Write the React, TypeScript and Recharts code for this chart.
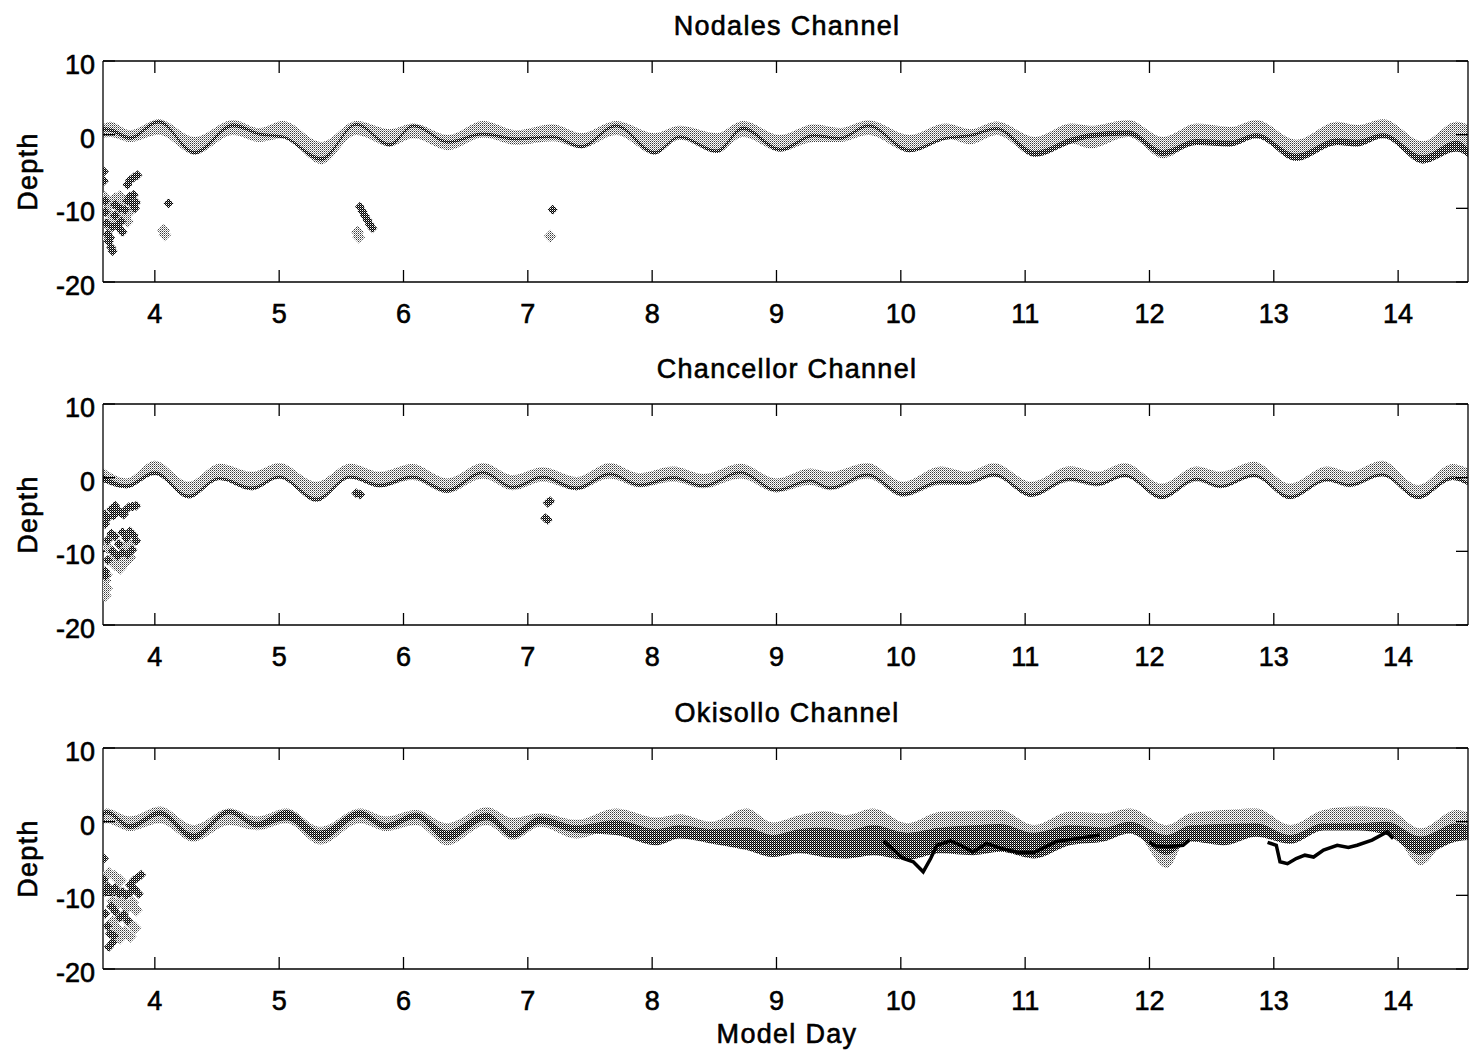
import React from 'react'
import { ComposedChart, Area, Line, Scatter, XAxis, YAxis } from 'recharts'

const FONT = '"Liberation Sans", Arial, Helvetica, sans-serif'
const X_TICKS = [4, 5, 6, 7, 8, 9, 10, 11, 12, 13, 14]
const Y_TICKS = [-20, -10, 0, 10]
const X_DOMAIN: [number, number] = [3.583, 14.562]
const Y_DOMAIN: [number, number] = [-20, 10]

// Nodales Channel
const nodDays = [3.583, 3.64, 3.8, 4.03, 4.32, 4.63, 4.84, 5.03, 5.34, 5.62, 5.89, 6.08, 6.36, 6.64, 6.91, 7.2, 7.43, 7.71, 8.02, 8.22, 8.52, 8.73, 9.03, 9.3, 9.51, 9.74, 10.07, 10.36, 10.56, 10.77, 11.08, 11.37, 11.52, 11.83, 12.11, 12.38, 12.65, 12.86, 13.18, 13.51, 13.67, 13.88, 14.2, 14.47, 14.56]
const nodLightTop = [1.4, 1.75, 0.6, 2.1, -0.3, 2.0, 0.9, 1.85, -1.0, 1.85, 0.75, 1.5, -0.05, 1.85, 0.6, 1.4, 0.2, 1.85, 0.2, 1.2, 0.2, 1.85, -0.05, 1.4, 0.9, 1.95, -0.05, 1.5, 0.75, 1.8, -0.3, 1.5, 1.2, 2.0, -0.3, 1.5, 1.05, 2.0, -0.7, 1.75, 1.3, 2.1, -0.9, 1.75, 1.4]
const nodLightBot = [-0.4, -0.3, -1.0, 0.0, -2.7, -0.05, -1.0, -0.5, -4.0, -0.05, -1.6, -0.5, -2.1, -0.4, -1.4, -0.9, -1.85, -0.05, -2.7, -0.7, -2.5, -0.3, -2.3, -1.0, -1.0, -0.05, -2.4, -0.5, -1.3, -0.05, -3.0, -1.2, -1.85, -0.3, -3.2, -1.2, -1.6, -0.5, -3.55, -1.4, -1.6, -0.3, -3.9, -2.3, -3.0]
const nodDarkTop = [1.0, 0.9, -0.2, 2.0, -2.2, 1.5, 0.3, -0.1, -3.0, 1.6, -1.1, 1.4, -0.8, 0.3, -0.4, -0.1, -1.4, 1.4, -2.2, -0.1, -2.0, 1.1, -1.8, 0.1, -0.3, 1.4, -1.9, -0.3, 0.1, 1.0, -2.2, -0.4, 0.2, 0.6, -2.1, -0.6, -0.8, 0.2, -2.6, -0.5, -0.7, 0.2, -2.8, -0.8, -1.8]
const nodDarkBot = [0.5, 0.4, -0.7, 1.5, -2.7, 1.0, -0.1, -0.5, -3.6, 1.2, -1.6, 1.0, -1.2, -0.1, -0.8, -0.5, -1.85, 1.0, -2.7, -0.5, -2.5, 0.6, -2.3, -0.3, -0.7, 1.0, -2.4, -0.7, -0.3, 0.6, -3.0, -1.2, -0.5, -0.1, -2.9, -1.4, -1.6, -0.5, -3.55, -1.4, -1.6, -0.5, -3.9, -2.3, -3.0]
const nodDarkDots = [[3.59, -5.0], [3.59, -6.3], [3.6, -9.0], [3.6, -10.5], [3.61, -12.0], [3.62, -13.5], [3.63, -14.5], [3.65, -15.3], [3.66, -15.8], [3.64, -14.0], [3.66, -12.5], [3.68, -11.0], [3.7, -12.3], [3.72, -12.8], [3.74, -13.2], [3.73, -11.8], [3.76, -10.2], [3.78, -9.0], [3.8, -8.4], [3.82, -9.4], [3.84, -10.0], [3.85, -9.2], [3.83, -8.2], [3.78, -6.8], [3.8, -6.2], [3.83, -5.8], [3.86, -5.5], [3.72, -10.0], [3.68, -9.5], [4.11, -9.3], [5.65, -9.8], [5.67, -10.4], [5.69, -11.0], [5.71, -11.6], [5.73, -12.2], [5.75, -12.7], [7.2, -10.2]]
const nodGrayDots = [[3.6, -8.5], [3.62, -9.8], [3.64, -10.8], [3.66, -9.2], [3.68, -8.7], [3.7, -9.6], [3.72, -8.4], [3.74, -9.0], [3.66, -11.8], [3.64, -12.6], [3.7, -10.8], [3.76, -11.2], [3.8, -10.4], [3.78, -11.8], [3.62, -14.0], [4.07, -13.0], [4.08, -13.6], [5.63, -13.2], [5.64, -13.9], [7.18, -13.8]]

// Chancellor Channel
const chanDays = [3.583, 3.77, 4.0, 4.27, 4.52, 4.78, 5.0, 5.3, 5.57, 5.81, 6.07, 6.35, 6.64, 6.88, 7.12, 7.39, 7.66, 7.9, 8.17, 8.41, 8.71, 9.0, 9.27, 9.43, 9.73, 10.02, 10.32, 10.53, 10.75, 11.05, 11.36, 11.58, 11.8, 12.1, 12.38, 12.57, 12.84, 13.13, 13.43, 13.61, 13.87, 14.16, 14.44, 14.56]
const chanLightTop = [1.3, -0.1, 2.3, -0.55, 1.9, 0.8, 2.0, -0.55, 1.9, 0.8, 1.85, -0.1, 2.0, 0.35, 1.4, 0.1, 2.0, 0.6, 1.5, 0.5, 1.9, -0.1, 1.25, 0.8, 2.0, -0.55, 1.5, 0.8, 1.95, -0.55, 1.55, 0.8, 2.0, -0.8, 1.5, 0.8, 2.15, -0.8, 1.5, 0.8, 2.3, -1.0, 1.85, 1.25]
const chanLightBot = [-0.6, -1.45, 0.35, -2.8, -0.3, -1.7, -0.1, -3.25, -0.1, -1.3, -0.3, -2.1, -0.1, -1.7, -0.55, -1.7, -0.1, -1.3, -0.55, -1.45, -0.1, -2.0, -1.0, -1.7, -0.1, -2.6, -1.0, -1.0, 0.1, -2.6, -0.55, -1.2, 0.05, -2.9, -0.55, -1.45, 0.05, -2.9, -0.55, -1.3, 0.2, -2.9, -0.3, -1.0]
const chanDarkTop = [0.4, -0.9, 0.9, -2.3, 0.1, -1.2, 0.3, -2.7, 0.3, -0.8, 0.3, -1.5, 0.9, -1.1, 0.3, -1.2, 0.7, -0.8, 0.2, -0.9, 0.9, -1.5, -0.2, -1.2, 0.6, -2.0, -0.4, -0.5, 0.6, -2.1, 0.0, -0.7, 0.5, -2.4, 0.0, -1.0, 0.5, -2.4, -0.1, -0.8, 0.6, -2.4, 0.2, -0.6]
const chanDarkBot = [-0.6, -1.45, 0.35, -2.8, -0.3, -1.7, -0.1, -3.25, -0.1, -1.3, -0.1, -2.0, 0.5, -1.5, -0.1, -1.7, 0.3, -1.2, -0.2, -1.3, 0.5, -1.9, -0.6, -1.6, 0.2, -2.5, -0.8, -0.9, 0.2, -2.6, -0.4, -1.1, 0.1, -2.9, -0.4, -1.4, 0.1, -2.9, -0.5, -1.2, 0.2, -2.9, -0.3, -1.0]
const chanDarkDots = [[3.6, -5.0], [3.6, -6.3], [3.62, -5.5], [3.65, -4.3], [3.68, -3.8], [3.7, -4.4], [3.73, -4.8], [3.76, -4.5], [3.79, -4.0], [3.82, -3.9], [3.85, -3.8], [3.75, -5.0], [3.67, -5.1], [3.62, -8.5], [3.65, -7.6], [3.68, -8.0], [3.71, -9.0], [3.74, -7.4], [3.77, -8.2], [3.8, -7.3], [3.83, -7.8], [3.85, -8.6], [3.82, -9.8], [3.78, -10.4], [3.74, -10.2], [3.7, -10.6], [3.66, -10.0], [3.62, -11.2], [3.6, -12.7], [3.6, -13.3], [5.62, -2.1], [5.65, -2.3], [7.16, -3.4], [7.18, -3.2], [7.14, -5.5], [7.16, -5.7]]
const chanGrayDots = [[3.62, -9.5], [3.65, -11.0], [3.68, -11.8], [3.72, -12.3], [3.76, -11.5], [3.8, -10.8], [3.7, -11.0], [3.6, -14.0], [3.61, -15.0], [3.6, -16.0], [3.61, -13.2], [3.75, -9.5], [3.79, -9.0]]

// Okisollo Channel
const okiDays = [3.583, 3.61, 3.8, 4.04, 4.31, 4.6, 4.82, 5.06, 5.33, 5.65, 5.86, 6.1, 6.35, 6.67, 6.88, 7.1, 7.39, 7.71, 8.04, 8.22, 8.47, 8.76, 8.97, 9.19, 9.38, 9.56, 9.78, 10.05, 10.32, 10.58, 10.8, 11.07, 11.36, 11.63, 11.84, 12.14, 12.33, 12.6, 12.86, 13.13, 13.4, 13.67, 13.91, 14.18, 14.47, 14.56]
const okiLightTop = [1.5, 1.8, 0.7, 2.05, -0.45, 1.8, 0.7, 1.8, -0.7, 1.8, 0.7, 1.6, -0.2, 1.95, 0.5, 1.15, 0.25, 1.8, 0.55, 1.0, 0.0, 1.8, -0.1, 0.9, 1.45, 0.9, 1.8, -0.2, 1.35, 1.45, 1.6, -0.45, 1.35, 1.15, 1.8, -0.45, 1.15, 1.6, 1.8, -0.45, 1.6, 2.05, 1.8, -0.9, 1.6, 1.3]
const okiLightBot = [-0.3, -0.2, -1.25, -0.2, -2.7, -0.45, -1.15, -0.2, -3.1, -0.2, -1.25, -0.45, -3.2, -0.45, -2.5, -0.7, -2.3, -0.9, -2.0, -1.6, -2.5, -0.8, -2.6, -1.7, -1.2, -1.7, -0.8, -2.8, -1.3, -1.2, -1.0, -3.0, -1.3, -1.5, -0.8, -6.3, -1.4, -1.0, -0.8, -3.0, -1.0, -0.6, -0.8, -5.9, -1.0, -1.3]
const okiDarkTop = [1.2, 1.6, -0.3, 1.5, -1.6, 1.7, 0.0, 1.6, -1.2, 1.5, -0.2, 1.2, -1.2, 1.2, -1.2, 0.7, -0.5, 0.2, -1.0, -0.5, -1.0, -0.8, -1.8, -1.0, -0.8, -1.2, -0.5, -1.5, -0.8, -0.5, -0.3, -1.5, -0.5, -0.8, 0.0, -1.8, -0.5, -0.3, -0.2, -1.8, -0.2, -0.2, 0.0, -2.0, -0.2, -0.5]
const okiDarkBot = [0.6, 1.0, -1.0, 0.8, -2.5, 1.0, -0.8, 0.2, -2.6, 0.6, -1.0, 0.4, -2.6, 0.2, -2.2, -0.3, -1.5, -1.8, -3.2, -2.3, -2.95, -3.85, -4.8, -4.3, -4.8, -5.0, -4.55, -5.2, -4.3, -4.55, -4.1, -5.0, -3.2, -2.7, -1.6, -4.5, -2.7, -3.2, -2.05, -3.0, -1.2, -1.2, -1.8, -4.5, -2.7, -2.5]
const okiTrackADays = [9.86, 10.02, 10.1, 10.18, 10.24, 10.29, 10.4, 10.48, 10.58, 10.69, 10.8, 10.95, 11.07, 11.25, 11.45, 11.6]
const okiTrackADepth = [-2.6, -5.0, -5.45, -6.8, -5.0, -3.2, -2.6, -3.2, -4.1, -2.95, -3.6, -4.2, -4.2, -2.7, -2.2, -1.8]
const okiTrackBDays = [12.0, 12.05, 12.15, 12.27, 12.32]
const okiTrackBDepth = [-2.8, -3.3, -3.4, -3.2, -2.5]
const okiTrackCDays = [12.95, 13.02, 13.05, 13.11, 13.18, 13.25, 13.32, 13.4, 13.51, 13.6, 13.67, 13.79, 13.91, 13.96]
const okiTrackCDepth = [-2.8, -3.2, -5.45, -5.7, -5.0, -4.55, -4.8, -3.85, -3.2, -3.5, -3.2, -2.5, -1.4, -2.3]
const okiDarkDots = [[3.59, -5.0], [3.59, -7.9], [3.6, -9.5], [3.6, -12.5], [3.8, -8.6], [3.83, -8.0], [3.86, -7.6], [3.89, -7.2], [3.62, -8.8], [3.65, -9.4], [3.68, -9.0], [3.71, -9.8], [3.74, -9.5], [3.77, -10.0], [3.8, -9.6], [3.84, -9.2], [3.87, -9.8], [3.65, -11.5], [3.68, -12.2], [3.72, -13.0], [3.75, -12.6], [3.78, -13.4], [3.62, -14.2], [3.64, -15.2], [3.66, -16.4], [3.63, -17.0], [3.67, -15.5]]
const okiGrayDots = [[3.63, -7.0], [3.68, -7.4], [3.72, -8.0], [3.66, -10.8], [3.7, -11.2], [3.74, -11.0], [3.78, -11.6], [3.82, -11.0], [3.85, -12.0], [3.8, -13.8], [3.84, -14.4], [3.76, -15.0], [3.7, -14.6], [3.72, -15.8], [3.8, -15.6], [3.66, -13.6]]

const bandRows = (days: number[], lt: number[], lb: number[], dt: number[], db: number[]) =>
  days.map((d, i) => ({ day: d, light: [lb[i], lt[i]], dark: [db[i], dt[i]] }))
const pts = (arr: number[][]) => arr.map(([day, y]) => ({ day, y }))
const track = (days: number[], depth: number[]) => days.map((day, i) => ({ day, y: depth[i] }))

const diamond = (fill: string, r: number) => (p: any) => (
  <path d={`M${p.cx},${p.cy - r}L${p.cx + r},${p.cy}L${p.cx},${p.cy + r}L${p.cx - r},${p.cy}Z`} fill={fill} />
)

const PLOT_H = 221
const TOP_H = 40
const BOT_H = 60
const axisStyle = { stroke: '#000', strokeWidth: 1.3 }
const tickFont = { fill: '#000', fontSize: 27, fontFamily: FONT, stroke: '#000', strokeWidth: 0.6 }

type PanelProps = {
  plotTop: number
  rows: any[]
  darkDots: number[][]
  grayDots: number[][]
  tracks?: { day: number; y: number }[][]
}

function Panel({ plotTop, rows, darkDots, grayDots, tracks = [] }: PanelProps) {
  return (
    <div style={{ position: 'absolute', left: 0, top: plotTop - TOP_H }}>
      <ComposedChart width={1470} height={TOP_H + PLOT_H + BOT_H} data={rows} margin={{ top: 0, right: 0, bottom: 0, left: 0 }}>
        <XAxis dataKey="day" type="number" domain={X_DOMAIN} ticks={X_TICKS} allowDataOverflow interval={0}
          height={BOT_H} tickSize={-12} tickMargin={34} axisLine={axisStyle} tickLine={axisStyle} tick={tickFont} />
        <XAxis xAxisId="top" orientation="top" dataKey="day" type="number" domain={X_DOMAIN} ticks={X_TICKS} allowDataOverflow interval={0}
          height={TOP_H} tickSize={-12} tickFormatter={() => ''} axisLine={axisStyle} tickLine={axisStyle} />
        <YAxis type="number" domain={Y_DOMAIN} ticks={Y_TICKS} allowDataOverflow interval={0} width={103}
          tickSize={-12} tickMargin={20} axisLine={axisStyle} tickLine={axisStyle} tick={{ ...tickFont, dy: 3.5 }} />
        <YAxis yAxisId="right" orientation="right" type="number" domain={Y_DOMAIN} ticks={Y_TICKS} allowDataOverflow interval={0} width={2}
          tickSize={-12} tickFormatter={() => ''} axisLine={axisStyle} tickLine={axisStyle} />
        <Area dataKey="light" type="monotone" fill="url(#lightDots)" fillOpacity={1} stroke="none" isAnimationActive={false} />
        <Area dataKey="dark" type="monotone" fill="url(#darkDots)" fillOpacity={1} stroke="none" isAnimationActive={false} />
        {tracks.map((t, i) => (
          <Line key={i} data={t} dataKey="y" type="linear" stroke="#000" strokeWidth={3.5} dot={false} isAnimationActive={false} />
        ))}
        <Scatter data={pts(grayDots)} dataKey="y" shape={diamond('url(#lightDots)', 6.5)} isAnimationActive={false} />
        <Scatter data={pts(darkDots)} dataKey="y" shape={diamond('url(#darkDots)', 5)} isAnimationActive={false} />
      </ComposedChart>
    </div>
  )
}

const textStyle = { fontFamily: FONT, fontSize: 27, fill: '#000', letterSpacing: 1.3, stroke: '#000', strokeWidth: 0.6 }

export default function App() {
  return (
    <div style={{ position: 'absolute', left: 0, top: 0, width: 1470, height: 1052, background: '#fff' }}>
      <svg width="0" height="0" style={{ position: 'absolute' }}>
        <defs>
          <pattern id="lightDots" width="2" height="2" patternUnits="userSpaceOnUse">
            <rect x="0" y="0" width="2" height="2" fill="#fff" />
            <rect x="0" y="0" width="1" height="1" fill="#3a3a3a" />
            <rect x="1" y="1" width="1" height="1" fill="#999" />
          </pattern>
          <pattern id="darkDots" width="2" height="2" patternUnits="userSpaceOnUse">
            <rect x="0" y="0" width="2" height="2" fill="#fff" />
            <rect x="0" y="0" width="1" height="1" fill="#000" />
            <rect x="1" y="1" width="1" height="1" fill="#000" />
            <rect x="1" y="0" width="1" height="1" fill="#666" />
          </pattern>
        </defs>
      </svg>
      <Panel plotTop={61} rows={bandRows(nodDays, nodLightTop, nodLightBot, nodDarkTop, nodDarkBot)} darkDots={nodDarkDots} grayDots={nodGrayDots} />
      <Panel plotTop={404} rows={bandRows(chanDays, chanLightTop, chanLightBot, chanDarkTop, chanDarkBot)} darkDots={chanDarkDots} grayDots={chanGrayDots} />
      <Panel plotTop={748} rows={bandRows(okiDays, okiLightTop, okiLightBot, okiDarkTop, okiDarkBot)} darkDots={okiDarkDots} grayDots={okiGrayDots}
        tracks={[track(okiTrackADays, okiTrackADepth), track(okiTrackBDays, okiTrackBDepth), track(okiTrackCDays, okiTrackCDepth)]} />
      <svg width={1470} height={1052} style={{ position: 'absolute', left: 0, top: 0, pointerEvents: 'none' }}>
        <text x={787} y={35} textAnchor="middle" style={textStyle}>Nodales Channel</text>
        <text x={787} y={378} textAnchor="middle" style={textStyle}>Chancellor Channel</text>
        <text x={787} y={722} textAnchor="middle" style={textStyle}>Okisollo Channel</text>
        <text x={787} y={1043} textAnchor="middle" style={textStyle}>Model Day</text>
        <text transform="translate(37, 171.5) rotate(-90)" textAnchor="middle" style={textStyle}>Depth</text>
        <text transform="translate(37, 514.5) rotate(-90)" textAnchor="middle" style={textStyle}>Depth</text>
        <text transform="translate(37, 858.5) rotate(-90)" textAnchor="middle" style={textStyle}>Depth</text>
      </svg>
    </div>
  )
}
